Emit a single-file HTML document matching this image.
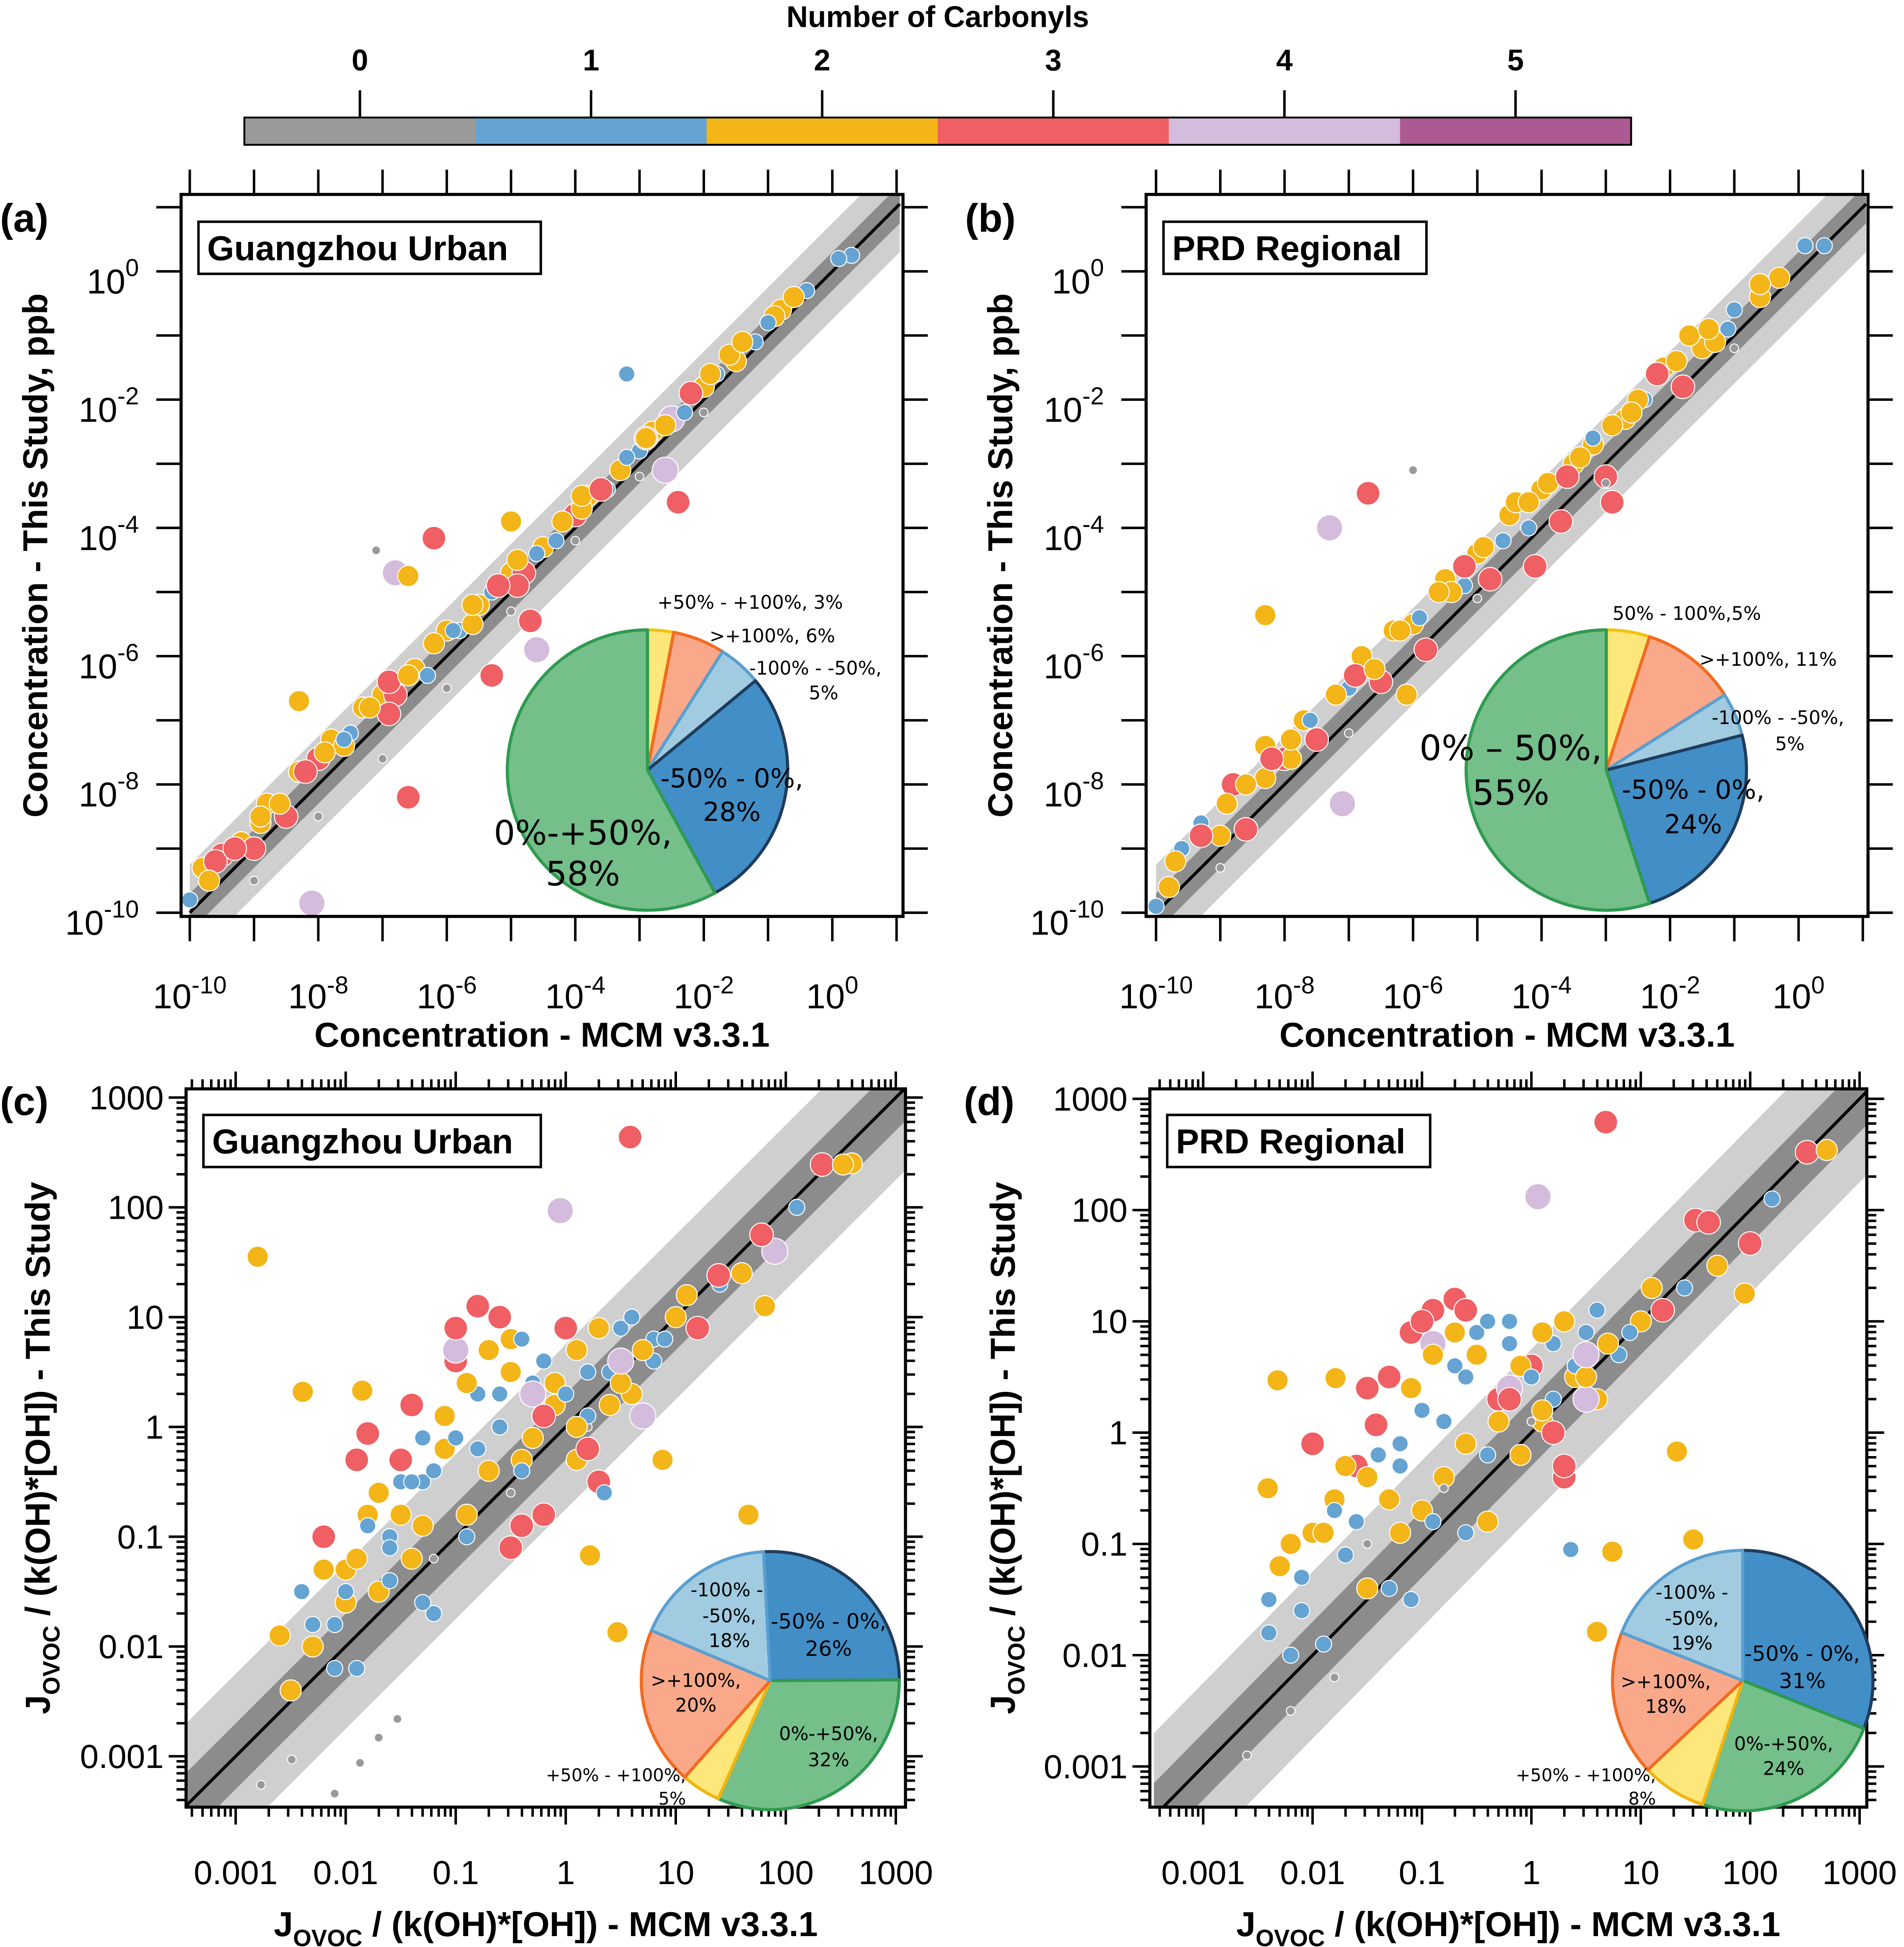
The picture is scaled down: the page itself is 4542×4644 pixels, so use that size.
<!DOCTYPE html>
<html><head><meta charset="utf-8"><style>
html,body{margin:0;padding:0;background:#fff}
svg{display:block}
text{font-family:"Liberation Sans",sans-serif}
.pt{font-family:"DejaVu Sans","Liberation Sans",sans-serif}
</style></head><body>
<svg id="fig" xmlns="http://www.w3.org/2000/svg" width="4542" height="4644" viewBox="0 0 1535 1568">
<rect x="0" y="0" width="1535" height="1568" fill="#fff"/>
<g id="cbar"></g>
<g id="root"></g>
</svg>
<script>
// ---------- data ----------
const carbonylCats = [0,1,2,3,4,5];
const carbonylColors = ["#9a9a9a","#64a3d2","#f3b517","#ef5f63","#d4bcdc","#ad5a93"];
const pointSize = [3.5,6.5,8.5,9.5,10.5,10.5];

// panel (a): log10 concentrations
const aX = [-10,-9.8,-9.5,-9.2,-9,-8.8,-8.5,-8.3,-8,-7.8,-7.5,-7.3,-7,-6.8,-6.5,-6.3,-6,-5.8,-5.5,-5.3,-5,-4.8,-4.5,-4.3,-4,-3.8,-3.5,-3.3,-3,-2.8,-2.5,-2.3,-2,-1.8,-1.5,-1.2,-0.8,-0.4,0.3,-9,-8,-7,-6,-5,-4,-3,-2,-3.2,-6.2,-6.8,-6.6,-2.4,-2.6,-4.6,-5.3,-6.6,-8.1,-8.3,-5.0,-4.7,-7.1,-9.6,-8.9,-7.6,-6.9,-5.6,-4.9,-3.9,-2.9,-1.6,-0.9,
 -9.7,-9.3,-8.9,-8.6,-8.2,-7.9,-7.6,-7.2,-6.9,-6.6,-6.2,-5.9,-5.6,-5.2,-4.9,-4.6,-4.2,-3.9,-3.6,-3.2,-2.9,-2.6,-2.2,-1.9,-1.4,-1.0,-0.6,0.1];
const aY = [-9.8,-9.3,-9.1,-8.9,-9,-8.3,-8.5,-7.8,-7.6,-7.3,-7.2,-6.8,-6.6,-6.6,-6.2,-6.3,-5.6,-5.6,-5.2,-5.0,-4.7,-4.7,-4.3,-4.2,-3.8,-3.5,-3.4,-3.1,-2.8,-2.5,-2.3,-2.2,-1.8,-1.6,-1.4,-1.1,-0.6,-0.3,0.25,-9.5,-8.5,-7.6,-6.5,-5.3,-4.2,-3.2,-2.2,-1.6,-4.16,-4.7,-4.75,-3.6,-3.1,-5.9,-6.3,-8.2,-9.85,-6.7,-3.9,-5.45,-4.35,-9.2,-8.6,-7.4,-6.9,-5.5,-4.9,-3.7,-2.6,-1.3,-0.7,
 -9.5,-9.0,-8.5,-8.3,-7.8,-7.5,-7.3,-6.8,-6.4,-6.3,-5.8,-5.6,-5.2,-4.9,-4.5,-4.4,-3.9,-3.5,-3.4,-2.9,-2.6,-2.4,-1.9,-1.6,-1.1,-0.8,-0.4,0.2];
const aC = [1,2,3,2,3,2,3,2,3,2,1,2,2,3,2,1,2,1,2,1,2,3,2,1,3,2,1,2,1,2,4,1,2,1,2,1,2,1,1,0,0,0,0,0,0,0,0,1,3,4,2,3,4,4,3,3,4,2,2,3,0,3,2,2,3,2,3,2,3,2,2,
 2,3,2,2,3,2,1,2,3,2,2,1,2,3,2,1,2,2,3,1,2,2,3,2,2,1,2,1];

// panel (b)
const bX = [-10,-9.8,-9.3,-9,-8.6,-8.3,-8,-7.7,-7.5,-7.2,-7,-6.8,-6.5,-6.3,-6,-5.8,-5.5,-5.2,-5,-4.8,-4.5,-4.2,-4,-3.7,-3.5,-3.2,-3,-2.7,-2.4,-2.1,-1.8,-1.5,-1.1,-0.6,0.4,-9,-7,-5,-3,-1,-1.7,-6.7,-6.0,-7.3,-8.3,-7.1,-8.3,-9.6,-8.8,-7.9,-6.1,-5.4,-4.4,-3.4,-2.5,-1.3,-0.3,-4.1,-2.9,
 -9.7,-9.3,-8.9,-8.6,-8.2,-7.9,-7.6,-7.2,-6.9,-6.6,-6.2,-5.9,-5.6,-5.2,-4.9,-4.6,-4.2,-3.9,-3.6,-3.2,-2.9,-2.6,-2.2,-1.9,-1.4,-1.0,-0.6,0.1];
const bY = [-9.9,-9.6,-8.6,-8.8,-8.7,-7.9,-7.6,-7.0,-7.3,-6.6,-6.5,-6.0,-6.4,-5.6,-5.5,-5.9,-4.8,-4.9,-4.4,-4.8,-3.8,-4.0,-3.4,-3.9,-3.0,-2.7,-3.2,-2.3,-2.0,-1.5,-1.8,-1.2,-0.9,-0.4,0.4,-9.3,-7.2,-5.1,-3.3,-1.2,-1.0,-3.46,-3.1,-4.0,-5.36,-8.3,-7.4,-9.0,-8.0,-7.6,-6.6,-5.0,-3.6,-2.9,-2.0,-1.1,-0.1,-4.6,-3.6,
 -9.2,-8.8,-8.3,-8.0,-7.6,-7.3,-7.0,-6.6,-6.3,-6.2,-5.6,-5.4,-5.0,-4.6,-4.3,-4.2,-3.6,-3.3,-3.2,-2.6,-2.4,-2.2,-1.6,-1.4,-0.9,-0.6,-0.2,0.4];
const bC = [1,2,1,2,3,2,3,2,3,2,1,2,3,2,2,3,2,1,2,3,2,1,2,3,2,2,3,2,1,2,3,2,1,2,1,0,0,0,0,0,2,3,0,4,2,4,2,1,3,2,2,2,2,2,2,2,2,3,3,
 2,3,2,2,3,2,1,2,3,2,2,1,2,3,2,1,2,2,3,1,2,2,3,2,2,1,2,1];

// panel (c): log10 J/(kOH*OH)
const cX = [-2.5,-2.4,-2.3,-2.2,-2.1,-2.0,-1.9,-1.8,-1.7,-1.6,-1.5,-1.4,-1.3,-1.2,-1.1,-1.0,-0.9,-0.8,-0.8,-0.7,-0.6,-0.5,-0.5,-0.4,-0.3,-0.2,-0.1,0,0.1,0.2,0.3,0.4,0.5,0.6,0.8,1.0,1.2,-1.0,-0.3,0.7,-1.2,-0.5,0.2,-1.5,-2.0,-1.6,0.8,1.4,1.6,1.9,2.1,2.6,0.585,-0.05,-2.8,-2.39,-1.85,-1.8,0.88,1.66,1.83,0.22,0.47,1.39,1.81,2.33,2.52,1.78,-2.77,-2.49,-2.1,-1.87,-1.7,-1.53,-2.6,-1.3,-0.4,0.35,
 -2.3,-2.2,-2.0,-1.9,-1.8,-1.7,-1.6,-1.5,-1.4,-1.3,-1.2,-1.1,-1.0,-0.9,-0.8,-0.7,-0.6,-0.5,-0.4,-0.3,-0.2,-0.1,0.0,0.1,0.2,0.3,0.4,0.5,0.6,0.7,0.9,1.1,-1.9,-1.4,-1.0,-0.6,-0.2,0.2,-2.1,-1.3,-0.9,-0.4,0.1,0.5];
const cY = [-2.4,-1.5,-2.0,-1.0,-1.8,-1.3,-2.2,-0.8,-1.5,-1.0,-0.3,-1.2,-0.5,-1.7,-0.2,0.6,-0.8,0.3,1.1,-0.4,0.0,0.8,-1.1,-0.3,0.4,-0.8,0.2,0.9,-0.3,0.5,-0.5,0.2,0.9,0.3,0.6,1.0,0.9,0.7,0.3,0.1,-1.2,-0.6,0,-0.5,-1.6,-1.4,0.8,1.3,1.4,1.6,2.0,2.4,2.64,1.97,1.55,0.32,0.33,-0.06,-0.3,-0.8,-1.81,-1.17,-1.87,1.38,1.1,2.39,2.39,1.75,-3.26,-3.03,-3.34,-3.06,-2.83,-2.66,-1.9,-0.1,-0.9,-0.6,
 -1.8,-1.3,-1.5,-1.2,-0.9,-0.6,-1.1,-0.8,-0.5,-0.9,-0.4,0.1,-0.1,0.4,-0.2,0.7,0.3,0.5,0.8,-0.1,0.6,0.4,0.3,0.7,0.1,0.9,0.5,0.4,1.0,0.7,0.8,1.2,-0.3,0.2,0.9,1.0,0.1,-0.2,-2.2,-1.6,-1.0,-0.4,0.0,0.6];
const cC = [2,1,2,3,1,2,1,2,2,1,3,2,1,1,2,3,2,1,3,2,1,2,3,2,1,3,2,3,2,1,3,2,1,2,1,2,3,4,4,4,0,0,0,1,2,1,1,1,2,4,1,2,3,4,2,2,2,3,2,2,2,2,2,3,2,3,2,3,0,0,0,0,0,0,2,1,3,1,
 1,2,1,2,1,2,1,2,1,2,1,2,1,2,1,2,1,2,1,2,1,2,1,2,1,2,1,2,1,2,1,2,3,3,3,3,3,3,1,1,1,1,2,4];

// panel (d)
const dX = [-2.4,-2.3,-2.1,-2.0,-1.9,-1.8,-1.7,-1.6,-1.5,-1.4,-1.3,-1.2,-1.1,-1.0,-0.9,-0.8,-0.7,-0.7,-0.6,-0.5,-0.4,-0.3,-0.2,-0.1,0,0.1,0.2,0.3,0.4,0.5,0.6,0.8,1.0,1.2,-0.9,-0.2,0.5,-1.5,-0.8,0,-1.2,1.4,1.7,2.0,2.2,0.68,0.06,-2.32,-1.79,-1.42,-2.41,1.5,1.95,1.33,1.48,0.74,0.6,1.8,0.36,2.52,2.7,1.62,-2.6,-2.2,-1.8,-1.1,-0.6,-1.0,0.3,
 -2.4,-2.2,-2.1,-1.9,-1.8,-1.7,-1.6,-1.5,-1.4,-1.3,-1.2,-1.1,-1.0,-0.9,-0.8,-0.7,-0.6,-0.5,-0.4,-0.3,-0.2,-0.1,0.0,0.1,0.2,0.3,0.4,0.5,0.6,0.7,0.9,1.1,-2.0,-1.5,-1.0,-0.6,-0.2,0.2,-2.2,-1.3,-0.9,-0.4,0.1,0.5];
const dY = [-1.8,-1.2,-1.6,-0.9,-1.9,-0.6,-1.1,-0.3,-1.4,-0.2,0.5,-0.9,0.9,0.2,1.1,-0.4,0.6,1.2,-0.1,0.9,-0.8,0.3,1.0,-0.2,0.6,0.1,0.8,-0.4,0.5,0.9,0.3,0.7,1.0,1.1,0.8,0.4,0.3,-1.0,-0.5,0.1,-0.3,1.3,1.5,1.7,2.1,2.79,2.12,0.47,0.49,0.07,-0.5,1.91,1.25,-0.17,-0.96,-1.07,-1.79,-2.52,-1.05,2.52,2.54,1.89,-2.9,-2.5,-2.2,-1.5,-0.9,-0.7,-0.3,
 -1.5,-1.0,-1.3,-0.9,-0.7,-0.3,-0.8,-0.4,-0.2,-0.6,-0.1,0.4,0.2,0.7,0.1,0.9,0.5,0.7,1.0,0.1,0.8,0.6,0.5,0.9,0.3,1.0,0.6,0.5,1.1,0.8,0.9,1.3,-0.1,0.4,1.0,1.1,0.3,0.0,-2.0,-1.4,-0.8,-0.2,0.2,0.7];
const dC = [1,2,1,2,1,2,1,3,2,1,3,2,3,1,3,2,1,3,2,1,2,3,1,2,3,2,1,3,2,1,2,1,2,3,4,4,4,0,0,0,1,1,2,3,1,3,4,2,2,3,2,3,2,2,2,2,2,2,1,3,2,3,0,0,0,1,1,2,3,
 1,2,1,2,1,2,1,2,1,2,1,2,1,2,1,2,1,2,1,2,1,2,1,2,1,2,1,2,1,2,1,2,3,3,3,3,3,3,1,1,1,1,2,4];

// pies (percent, clockwise)
const pieA = [3,6,5,28,58];
const pieB = [5,11,5,24,55];
const pieC = [26,32,5,20,18];
const pieD = [31,24,8,18,19];
</script>
<script>
const NS="http://www.w3.org/2000/svg";
const svg=document.getElementById('fig');
const root=document.getElementById('root');
function el(tag,attrs,parent){const e=document.createElementNS(NS,tag);for(const k in attrs)e.setAttribute(k,attrs[k]);(parent||root).appendChild(e);return e;}

// colorbar
const cb=document.getElementById('cbar');
const cbX0=197,cbX1=1315,cbW=(cbX1-cbX0)/carbonylCats.length;
carbonylCats.forEach((c,i)=>{
  const r=el('rect',{x:cbX0+i*cbW,y:94,width:cbW,height:22,fill:carbonylColors[i]},cb);
  
  
  el('line',{x1:cbX0+(i+0.5)*cbW,x2:cbX0+(i+0.5)*cbW,y1:72,y2:94,stroke:'#000','stroke-width':2},cb);
  const t=el('text',{x:cbX0+(i+0.5)*cbW,y:56,'text-anchor':'middle','font-size':24,'font-weight':'bold'},cb);
  t.textContent=c;
  
  
});
el('rect',{x:cbX0,y:94,width:cbX1-cbX0,height:22,fill:'none',stroke:'#000','stroke-width':1.5},cb);
const cbt=el('text',{x:756,y:21,'text-anchor':'middle','font-size':24,'font-weight':'bold'},cb);
cbt.textContent='Number of Carbonyls';



function panel(cfg){
  const g=el('g',{});
  
  
  const fx=v=>cfg.xpx+(v-cfg.xref)*cfg.xdec;
  const fy=v=>cfg.ypx-(v-cfg.yref)*cfg.ydec;
  const B=cfg.box;
  const cid='clip'+cfg.id;
  const cp=el('clipPath',{id:cid},g);
  el('rect',{x:B[0],y:B[1],width:B[2]-B[0],height:B[3]-B[1]},cp);
  const inner=el('g',{'clip-path':'url(#'+cid+')'},g);
  const lo=cfg.lineLo,hi=cfg.lineHi;
  [[cfg.light,'#cfcfcf','agreement-band-wide'],[cfg.dark,'#8c8c8c','agreement-band-narrow']].forEach(([w,col,nm])=>{
    const p=el('polygon',{points:`${fx(lo)},${fy(lo+w)} ${fx(hi)},${fy(hi+w)} ${fx(hi)},${fy(hi-w)} ${fx(lo)},${fy(lo-w)}`,fill:col},inner);
    
    
  });
  const l=el('line',{x1:fx(lo),y1:fy(lo),x2:fx(hi),y2:fy(hi),stroke:'#000','stroke-width':2.5},inner);
  
  
  cfg.X.forEach((x,i)=>{
    const c=cfg.C[i];
    const pt=el('circle',{cx:fx(x),cy:fy(cfg.Y[i]),r:pointSize[c],fill:carbonylColors[c],stroke:'#fff','stroke-width':0.8},inner);
    
    
  });
  el('rect',{x:B[0],y:B[1],width:B[2]-B[0],height:B[3]-B[1],fill:'none',stroke:'#000','stroke-width':2.5},g);
  const major=cfg.major, minor=cfg.major*0.55;
  const tk=(x1,y1,x2,y2)=>el('line',{x1,y1,x2,y2,stroke:'#000','stroke-width':2},g);
  for(let d=Math.ceil(cfg.xmin);d<=cfg.xmax;d++){
    const x=fx(d); if(x<B[0]-1||x>B[2]+1) continue;
    tk(x,B[3],x,B[3]+major); tk(x,B[1],x,B[1]-major);
  }
  for(let d=Math.ceil(cfg.ymin);d<=cfg.ymax;d++){
    const y=fy(d); if(y<B[1]-1||y>B[3]+1) continue;
    tk(B[0],y,B[0]-major,y); tk(B[2],y,B[2]+major,y);
  }
  if(cfg.minor){
    for(let d=Math.floor(cfg.xmin);d<=cfg.xmax;d++) for(let m=2;m<10;m++){
      const x=fx(d+Math.log10(m)); if(x<B[0]||x>B[2]) continue;
      tk(x,B[3],x,B[3]+minor); tk(x,B[1],x,B[1]-minor);
    }
    for(let d=Math.floor(cfg.ymin);d<=cfg.ymax;d++) for(let m=2;m<10;m++){
      const y=fy(d+Math.log10(m)); if(y<B[1]||y>B[3]) continue;
      tk(B[0],y,B[0]-minor,y); tk(B[2],y,B[2]+minor,y);
    }
  }
  cfg.xLabels.forEach(([v,txt,sup])=>{
    const t=el('text',{x:fx(v),y:cfg.xLabY,'text-anchor':'middle','font-size':cfg.lfs},g);
    
    
    t.textContent=txt;
    if(sup!==undefined){const s=el('tspan',{dy:-12,'font-size':cfg.lfs*0.7},t);s.textContent=sup;}
  });
  cfg.yLabels.forEach(([v,txt,sup])=>{
    const t=el('text',{x:cfg.yLabX,y:fy(v)+cfg.lfs*0.35+(sup!==undefined?8:0),'text-anchor':'end','font-size':cfg.lfs},g);
    
    
    t.textContent=txt;
    if(sup!==undefined){const s=el('tspan',{dy:-14,'font-size':cfg.lfs*0.7},t);s.textContent=sup;}
  });
  const xt=el('text',{x:(B[0]+B[2])/2,y:cfg.xTitleY,'text-anchor':'middle','font-size':28,'font-weight':'bold'},g);
  
  
  const yt=el('text',{x:0,y:0,'text-anchor':'middle','font-size':28,'font-weight':'bold',transform:`translate(${cfg.yTitleX},${(B[1]+B[3])/2}) rotate(-90)`},g);
  
  
  if(cfg.jTitle){
    xt.innerHTML='J<tspan font-size="19" dy="8">OVOC</tspan><tspan dy="-8"> / (k(OH)*[OH]) - MCM v3.3.1</tspan>';
    yt.innerHTML='J<tspan font-size="19" dy="8">OVOC</tspan><tspan dy="-8"> / (k(OH)*[OH]) - This Study</tspan>';
  } else {
    xt.textContent='Concentration - MCM v3.3.1';
    yt.textContent='Concentration - This Study, ppb';
  }
  const pl=el('text',{x:cfg.plX,y:cfg.plY,'font-size':32,'font-weight':'bold'},g);
  pl.textContent=cfg.label;
  
  
  const lb=el('rect',{x:cfg.lgX,y:cfg.lgY,width:cfg.lgW,height:42,fill:'#fff',stroke:'#000','stroke-width':2},g);
  
  
  const lt=el('text',{x:cfg.lgX+7,y:cfg.lgY+31,'font-size':28,'font-weight':'bold'},g);
  lt.textContent=cfg.site;
  
  
  const fills=cfg.pieFills, strokes=cfg.pieStrokes;
  let a=cfg.pieStart*Math.PI/180;
  const tot=cfg.pie.reduce((s,v)=>s+v,0);
  const [pcx,pcy,pr]=cfg.pieC;
  cfg.pie.forEach((v,i)=>{
    const a2=a+v/tot*2*Math.PI;
    const x1=pcx+pr*Math.sin(a),y1=pcy-pr*Math.cos(a),x2=pcx+pr*Math.sin(a2),y2=pcy-pr*Math.cos(a2);
    const sl=el('path',{d:`M${pcx},${pcy} L${x1},${y1} A${pr},${pr} 0 ${a2-a>Math.PI?1:0} 1 ${x2},${y2} Z`,fill:fills[i],stroke:strokes[i],'stroke-width':2.5,'stroke-linejoin':'round'},g);
    
    
    a=a2;
  });
  cfg.pieTexts.forEach(([x,y,txt,fs,anc])=>{
    const t=el('text',{x,y,'font-size':fs,'text-anchor':anc||'middle',class:'pt'},g);
    t.textContent=txt;
    
    
  });
}

const Fab=["#fde77a","#f9a98a","#a0cbe0","#428fc8","#74bf8a"];
const Sab=["#f2c40f","#f26b21","#5a9fd0","#1f3d5c","#2e9b4f"];
const Fcd=["#428fc8","#74bf8a","#fde77a","#f9a98a","#a0cbe0"];
const Scd=["#1f3d5c","#2e9b4f","#f2b40f","#f26b21","#5a9fd0"];
const NAB=["plus50-100","over100","minus100-50","minus50-0","zero-plus50"];
const NCD=["minus50-0","zero-plus50","plus50-100","over100","minus100-50"];
const concXL=[[-10,'10','-10'],[-8,'10','-8'],[-6,'10','-6'],[-4,'10','-4'],[-2,'10','-2'],[0,'10','0']];
const jXL=[[-3,'0.001'],[-2,'0.01'],[-1,'0.1'],[0,'1'],[1,'10'],[2,'100'],[3,'1000']];

panel({id:'a',name:'panel-a-guangzhou-concentration',X:aX,Y:aY,C:aC,box:[146,156,728,738],xref:-10,xpx:153,xdec:51.8,yref:0,ypx:218,ydec:51.7,
 xmin:-10.2,xmax:1.2,ymin:-10.2,ymax:1.3,lineLo:-10,lineHi:1.05,light:0.75,dark:0.3,minor:false,major:20,lfs:28,
 xLabels:concXL,xLabY:812,yLabels:concXL,yLabX:112,xTitleY:843,yTitleX:38,label:'(a)',plX:0,plY:186,
 lgX:160,lgY:178,lgW:276,site:'Guangzhou Urban',pie:pieA,pieStart:0,pieC:[522,620,113],pieFills:Fab,pieStrokes:Sab,pieNames:NAB,
 pieTexts:[[530,490,'+50% - +100%, 3%',15,'start'],[572,517,'>+100%, 6%',15,'start'],[604,543,'-100% - -50%,',15,'start'],[664,563,'5%',15,'middle'],
 [590,634,'-50% - 0%,',21],[590,661,'28%',21],[470,680,'0%-+50%,',27],[470,713,'58%',27]]});
panel({id:'b',name:'panel-b-prd-concentration',X:bX,Y:bY,C:bC,box:[924,156,1506,738],xref:-10,xpx:932,xdec:51.8,yref:0,ypx:218,ydec:51.7,
 xmin:-10.2,xmax:1.2,ymin:-10.2,ymax:1.3,lineLo:-10,lineHi:1.05,light:0.75,dark:0.3,minor:false,major:20,lfs:28,
 xLabels:concXL,xLabY:812,yLabels:concXL,yLabX:890,xTitleY:843,yTitleX:816,label:'(b)',plX:778,plY:186,
 lgX:938,lgY:178,lgW:212,site:'PRD Regional',pie:pieB,pieStart:0,pieC:[1295,620,113],pieFills:Fab,pieStrokes:Sab,pieNames:NAB,
 pieTexts:[[1300,499,'50% - 100%,5%',15,'start'],[1370,536,'>+100%, 11%',15,'start'],[1380,583,'-100% - -50%,',15,'start'],[1443,604,'5%',15,'middle'],
 [1218,612,'0% – 50%,',28],[1218,648,'55%',28],[1365,643,'-50% - 0%,',21],[1365,671,'24%',21]]});
panel({id:'c',name:'panel-c-guangzhou-photolysis',X:cX,Y:cY,C:cC,box:[150,877,730,1456],xref:-3,xpx:190,xdec:88.7,yref:3,ypx:884,ydec:88.5,
 xmin:-3.5,xmax:3.1,ymin:-3.5,ymax:3.1,lineLo:-3.45,lineHi:3.1,light:0.75,dark:0.3,minor:true,major:14,jTitle:true,lfs:27,
 xLabels:jXL,xLabY:1518,yLabels:jXL,yLabX:132,xTitleY:1560,yTitleX:40,label:'(c)',plX:0,plY:898,
 lgX:164,lgY:898,lgW:272,site:'Guangzhou Urban',pie:pieC,pieStart:-3,pieC:[621,1354,104],pieFills:Fcd,pieStrokes:Scd,pieNames:NCD,
 pieTexts:[[586,1286,'-100% -',15],[588,1307,'-50%,',15],[588,1327,'18%',15],[668,1312,'-50% - 0%,',17],[668,1334,'26%',17],
 [561,1359,'>+100%,',15],[561,1379,'20%',15],[668,1402,'0%-+50%,',15],[668,1423,'32%',15],[553,1435,'+50% - +100%,',14,'end'],[553,1454,'5%',14,'end']]});
panel({id:'d',name:'panel-d-prd-photolysis',X:dX,Y:dY,C:dC,box:[927,877,1505,1456],xref:-3,xpx:970,xdec:88.2,yref:3,ypx:885,ydec:89.7,
 xmin:-3.5,xmax:3.1,ymin:-3.5,ymax:3.1,lineLo:-3.45,lineHi:3.1,light:0.75,dark:0.3,minor:true,major:14,jTitle:true,lfs:27,
 xLabels:jXL,xLabY:1518,yLabels:jXL,yLabX:909,xTitleY:1560,yTitleX:818,label:'(d)',plX:777,plY:898,
 lgX:941,lgY:898,lgW:212,site:'PRD Regional',pie:pieD,pieStart:0,pieC:[1405,1354,105],pieFills:Fcd,pieStrokes:Scd,pieNames:NCD,
 pieTexts:[[1364,1288,'-100% -',15],[1364,1309,'-50%,',15],[1364,1329,'19%',15],[1453,1338,'-50% - 0%,',17],[1453,1360,'31%',17],
 [1343,1360,'>+100%,',15],[1343,1380,'18%',15],[1438,1410,'0%-+50%,',15],[1438,1430,'24%',15],[1335,1435,'+50% - +100%,',14,'end'],[1335,1454,'8%',14,'end']]});
</script>
</body></html>
